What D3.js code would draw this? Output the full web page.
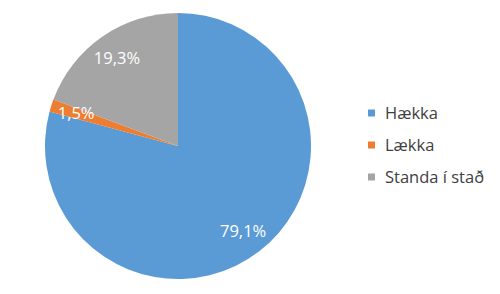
<!DOCTYPE html>
<html><head><meta charset="utf-8">
<script src="https://cdn.jsdelivr.net/npm/d3@7"></script>
<style>body{margin:0;background:#fff}svg{display:block}</style>
</head><body>
<script>
const categories = ["Hækka", "Lækka", "Standa í stað"];
const values = [79.1, 1.5, 19.3];
const labels = ["79,1%", "1,5%", "19,3%"];
const colors = ["#5B9BD5", "#ED7D31", "#A5A5A5"];

const W = 500, H = 294;
const svg = d3.select("body").append("svg").attr("width", W).attr("height", H);
const cx = 178, cy = 146, R = 133;
const g = svg.append("g").attr("transform", `translate(${cx},${cy})`);
const pie = d3.pie().sort(null).value(d => d)(values);
const arc = d3.arc().innerRadius(0).outerRadius(R);
const labelArc = d3.arc().innerRadius(107).outerRadius(107);
const color = d3.scaleOrdinal().domain(categories).range(colors);

g.selectAll("path").data(pie).join("path")
  .attr("d", arc).attr("fill", (d, i) => color(categories[i]));
g.selectAll("text").data(pie).join("text")
  .attr("transform", d => `translate(${labelArc.centroid(d)})`)
  .attr("text-anchor", "middle").attr("dy", "0.35em")
  .attr("fill", "#fff").attr("font-family", "Open Sans, sans-serif").attr("font-size", 16.5)
  .text((d, i) => labels[i]);

const y = d3.scalePoint().domain(categories).range([113, 177]);
const leg = svg.append("g");
categories.forEach(c => {
  leg.append("rect").attr("x", 368).attr("y", y(c) - 3.5).attr("width", 7).attr("height", 7).attr("fill", color(c));
  leg.append("text").attr("x", 385).attr("y", y(c)).attr("dy", "0.35em")
    .attr("font-family", "Open Sans, sans-serif").attr("font-size", 16.5).attr("fill", "#404040").text(c);
});
</script>
</body></html>
